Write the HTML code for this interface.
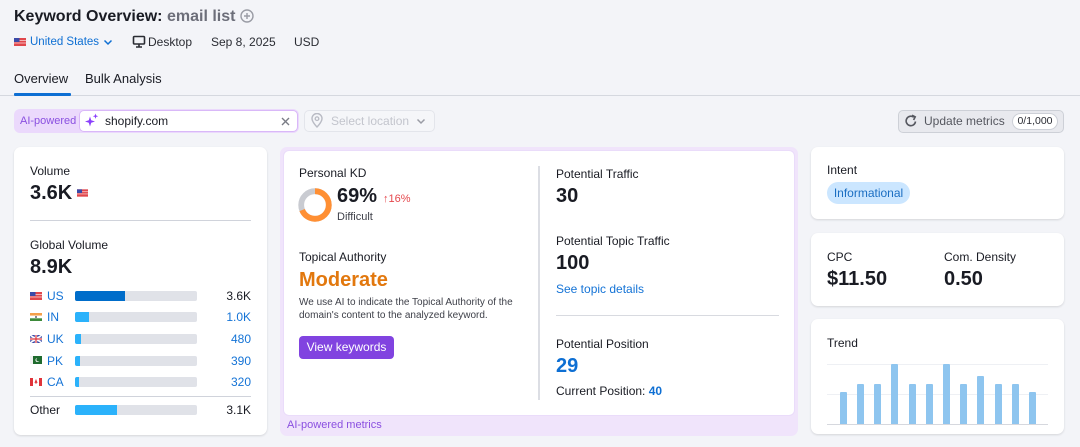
<!DOCTYPE html>
<html><head><meta charset="utf-8"><style>
*{margin:0;padding:0;box-sizing:border-box}
body{width:1080px;height:447px;background:#f3f4f8;font-family:"Liberation Sans",Arial,sans-serif;color:#191b23;position:relative;overflow:hidden}
.a{position:absolute}
.t{position:absolute;white-space:nowrap;line-height:20px;font-size:12px}
.card{position:absolute;background:#fff;border-radius:7px;box-shadow:0 1px 2px rgba(25,27,35,.14)}
.big{font-size:20px;font-weight:bold}
.blue{color:#1473d6}
.bar{position:absolute;left:75px;width:122px;height:10px;background:#e0e2e8;border-radius:2px;overflow:hidden}
.bar i{display:block;height:100%;background:#2bb2fb}
.tb{position:absolute;width:7px;background:#8ec5ef;border-radius:1px 1px 0 0}
</style></head><body>

<!-- Header -->
<div class="t" style="left:14px;top:7px;font-size:16px;font-weight:bold;color:#191b23">Keyword Overview:</div>
<div class="t" style="left:167px;top:7px;font-size:16px;font-weight:bold;color:#6c6e79">email list</div>
<svg class="a" style="left:240px;top:9px" width="14" height="14" viewBox="0 0 14 14"><circle cx="7" cy="7" r="6" fill="none" stroke="#9a9ca5" stroke-width="1.4"/><path d="M7 4v6M4 7h6" stroke="#9a9ca5" stroke-width="1.4"/></svg>

<!-- Row 2 -->
<svg class="a" style="left:14px;top:38px" width="12" height="8" viewBox="0 0 12 8"><rect width="12" height="8" fill="#e0474c"/><rect y="2" width="12" height="1" fill="#f3b5b7"/><rect y="4.5" width="12" height="1" fill="#f3b5b7"/><rect width="5.5" height="4" fill="#3a4aa8"/></svg>
<div class="t blue" style="left:30px;top:32px;color:#0e6fd3;font-size:11.5px">United States</div>
<svg class="a" style="left:103px;top:39px" width="10" height="7" viewBox="0 0 10 7"><path d="M1.5 1.5L5 5l3.5-3.5" fill="none" stroke="#0e6fd3" stroke-width="1.5"/></svg>
<svg class="a" style="left:132px;top:35px" width="14" height="13" viewBox="0 0 14 13"><rect x="1.5" y="1.5" width="11" height="7.5" rx="1" fill="none" stroke="#2a2c33" stroke-width="1.6"/><path d="M7 9v2.5M4 12h6" stroke="#2a2c33" stroke-width="1.6"/></svg>
<div class="t" style="left:148px;top:32px;color:#2a2c33">Desktop</div>
<div class="t" style="left:211px;top:32px;color:#2a2c33">Sep 8, 2025</div>
<div class="t" style="left:294px;top:32px;color:#2a2c33">USD</div>

<!-- Tabs -->
<div class="t" style="left:14px;top:69px;font-size:13px">Overview</div>
<div class="t" style="left:85px;top:69px;font-size:13px">Bulk Analysis</div>
<div class="a" style="left:0;top:95px;width:1080px;height:1px;background:#d5d8df"></div>
<div class="a" style="left:14px;top:93px;width:57px;height:3px;background:#0e6fd3;border-radius:1px"></div>

<!-- AI pill -->
<div class="a" style="left:14px;top:109px;width:285px;height:24px;background:#ebd9fc;border-radius:6px"></div>
<div class="t" style="left:20px;top:111px;font-size:11px;color:#8a4fe0">AI-powered</div>
<div class="a" style="left:79px;top:110px;width:219px;height:22px;background:#fff;border:1px solid #d9b8f8;border-radius:5px"></div>
<svg class="a" style="left:85px;top:113px" width="14" height="14" viewBox="0 0 14 14"><path d="M5 3.5L6.2 7.3 10 8.5 6.2 9.7 5 13.5 3.8 9.7 0 8.5 3.8 7.3z" fill="#8a3ffc"/><path d="M10.5 0.5l.7 2 2 .7-2 .7-.7 2-.7-2-2-.7 2-.7z" fill="#8a3ffc"/></svg>
<div class="t" style="left:105px;top:111px">shopify.com</div>
<svg class="a" style="left:281px;top:117px" width="9" height="9" viewBox="0 0 9 9"><path d="M1 1l7 7M8 1l-7 7" stroke="#7a7c85" stroke-width="1.4"/></svg>

<div class="a" style="left:304px;top:110px;width:131px;height:22px;border:1px solid #e3e5eb;border-radius:5px;background:#f5f6f9"></div>
<svg class="a" style="left:311px;top:113px" width="12" height="15" viewBox="0 0 12 15"><path d="M6 14s5-5 5-8.5A5 5 0 0 0 1 5.5C1 9 6 14 6 14z" fill="none" stroke="#b9bbc4" stroke-width="1.4"/><circle cx="6" cy="5.7" r="1.8" fill="none" stroke="#b9bbc4" stroke-width="1.3"/></svg>
<div class="t" style="left:331px;top:111px;color:#c3c5cd">Select location</div>
<svg class="a" style="left:416px;top:118px" width="10" height="7" viewBox="0 0 10 7"><path d="M1.5 1.5L5 5l3.5-3.5" fill="none" stroke="#9a9ca5" stroke-width="1.5"/></svg>

<!-- Update metrics -->
<div class="a" style="left:898px;top:110px;width:166px;height:23px;background:#e8e9ee;border:1px solid #cdd0d7;border-radius:5px"></div>
<svg class="a" style="left:904px;top:114px" width="14" height="14" viewBox="0 0 14 14"><path d="M11.5 7.5A4.7 4.7 0 1 1 9.8 3.3" fill="none" stroke="#55575f" stroke-width="1.6"/><path d="M8 1.2L11.2 2.8 9.6 6" fill="none" stroke="#55575f" stroke-width="1.6"/></svg>
<div class="t" style="left:924px;top:111px;color:#55575f">Update metrics</div>
<div class="a" style="left:1012px;top:113px;width:46px;height:17px;background:#fff;border:1px solid #cdd0d7;border-radius:9px;font-size:10.5px;line-height:15px;text-align:center;color:#2a2c33">0/1,000</div>

<!-- Left card -->
<div class="card" style="left:14px;top:147px;width:253px;height:288px"></div>
<div class="t" style="left:30px;top:161px">Volume</div>
<div class="t big" style="left:30px;top:183px">3.6K</div>
<svg class="a" style="left:77px;top:189px" width="11" height="8" viewBox="0 0 12 8"><rect width="12" height="8" fill="#e0474c"/><rect y="2" width="12" height="1" fill="#f3b5b7"/><rect y="4.5" width="12" height="1" fill="#f3b5b7"/><rect width="5.5" height="4" fill="#3a4aa8"/></svg>
<div class="a" style="left:30px;top:220px;width:221px;height:1px;background:#d0d3db"></div>
<div class="t" style="left:30px;top:235px">Global Volume</div>
<div class="t big" style="left:30px;top:257px">8.9K</div>

<!-- country rows -->
<svg class="a" style="left:30px;top:292px" width="12" height="8" viewBox="0 0 12 8"><rect width="12" height="8" fill="#e0474c"/><rect y="2" width="12" height="1" fill="#f3b5b7"/><rect y="4.5" width="12" height="1" fill="#f3b5b7"/><rect width="5.5" height="4" fill="#3a4aa8"/></svg>
<div class="t blue" style="left:47px;top:286px">US</div>
<div class="bar" style="top:291px"><i style="width:50px;background:#006dca"></i></div>
<div class="t" style="left:200px;top:286px;width:51px;text-align:right">3.6K</div>

<svg class="a" style="left:30px;top:313px" width="12" height="8" viewBox="0 0 12 8"><rect width="12" height="2.7" fill="#f4a04a"/><rect y="2.7" width="12" height="2.6" fill="#fff"/><rect y="5.3" width="12" height="2.7" fill="#3d8a3a"/><circle cx="6" cy="4" r="0.9" fill="#334"/></svg>
<div class="t blue" style="left:47px;top:307px">IN</div>
<div class="bar" style="top:312px"><i style="width:14px"></i></div>
<div class="t blue" style="left:200px;top:307px;width:51px;text-align:right">1.0K</div>

<svg class="a" style="left:30px;top:335px" width="12" height="8" viewBox="0 0 12 8"><rect width="12" height="8" fill="#3a4aa8"/><path d="M0 0L12 8M12 0L0 8" stroke="#fff" stroke-width="1.6"/><path d="M6 0v8M0 4h12" stroke="#fff" stroke-width="2.4"/><path d="M6 0v8M0 4h12" stroke="#d9343a" stroke-width="1.2"/></svg>
<div class="t blue" style="left:47px;top:329px">UK</div>
<div class="bar" style="top:334px"><i style="width:6px"></i></div>
<div class="t blue" style="left:200px;top:329px;width:51px;text-align:right">480</div>

<svg class="a" style="left:30px;top:356px" width="12" height="8" viewBox="0 0 12 8"><rect width="12" height="8" fill="#1f6b2e"/><rect width="3" height="8" fill="#f2f2f2"/><circle cx="7.5" cy="4" r="2" fill="#fff"/><circle cx="8.2" cy="3.6" r="1.8" fill="#1f6b2e"/></svg>
<div class="t blue" style="left:47px;top:351px">PK</div>
<div class="bar" style="top:356px"><i style="width:5px"></i></div>
<div class="t blue" style="left:200px;top:351px;width:51px;text-align:right">390</div>

<svg class="a" style="left:30px;top:378px" width="12" height="8" viewBox="0 0 12 8"><rect width="12" height="8" fill="#fff"/><rect width="3" height="8" fill="#e0343a"/><rect x="9" width="3" height="8" fill="#e0343a"/><path d="M6 2l1 2.5H5z M6 6v-2" fill="#e0343a" stroke="#e0343a" stroke-width=".8"/></svg>
<div class="t blue" style="left:47px;top:372px">CA</div>
<div class="bar" style="top:377px"><i style="width:4px"></i></div>
<div class="t blue" style="left:200px;top:372px;width:51px;text-align:right">320</div>

<div class="a" style="left:30px;top:396px;width:221px;height:1px;background:#d0d3db"></div>
<div class="t" style="left:30px;top:400px">Other</div>
<div class="bar" style="top:405px"><i style="width:42px"></i></div>
<div class="t" style="left:200px;top:400px;width:51px;text-align:right">3.1K</div>

<!-- Middle wrapper -->
<div class="a" style="left:280px;top:147px;width:518px;height:289px;background:#f0e4fb;border-radius:7px"></div>
<div class="a" style="left:283px;top:150px;width:512px;height:266px;background:#fff;border-radius:6px;border:1px solid #eadcfa"></div>
<div class="t" style="left:287px;top:415px;font-size:11px;color:#8a4fe0">AI-powered metrics</div>

<div class="t" style="left:299px;top:163px">Personal KD</div>
<svg class="a" style="left:298px;top:188px" width="34" height="34" viewBox="0 0 34 34">
<circle cx="17" cy="17" r="13.8" fill="none" stroke="#c9cbd1" stroke-width="5.8"/>
<circle cx="17" cy="17" r="13.8" fill="none" stroke="#ff8f33" stroke-width="5.8" stroke-dasharray="59.8 86.7" transform="rotate(-90 17 17)"/>
</svg>
<div class="t big" style="left:337px;top:186px">69%</div>
<div class="t" style="left:383px;top:189px;font-size:11px;color:#e5484d">↑16%</div>
<div class="t" style="left:337px;top:207px;font-size:11px;color:#3e4049">Difficult</div>

<div class="t" style="left:299px;top:247px">Topical Authority</div>
<div class="t big" style="left:299px;top:270px;color:#e2780e">Moderate</div>
<div class="a" style="left:299px;top:296px;font-size:10px;line-height:13px;color:#3e4049;white-space:nowrap">We use AI to indicate the Topical Authority of the<br>domain's content to the analyzed keyword.</div>
<div class="a" style="left:299px;top:336px;width:95px;height:23px;background:#8143e0;border-radius:4px;color:#fff;font-size:12px;line-height:23px;text-align:center">View keywords</div>

<div class="a" style="left:538px;top:166px;width:2px;height:234px;background:#dcdee4"></div>

<div class="t" style="left:556px;top:164px">Potential Traffic</div>
<div class="t big" style="left:556px;top:186px">30</div>
<div class="t" style="left:556px;top:231px">Potential Topic Traffic</div>
<div class="t big" style="left:556px;top:253px">100</div>
<div class="t" style="left:556px;top:279px;color:#1473d6">See topic details</div>
<div class="a" style="left:556px;top:315px;width:223px;height:1px;background:#d8dae0"></div>
<div class="t" style="left:556px;top:334px">Potential Position</div>
<div class="t big" style="left:556px;top:356px;color:#0e6fd3">29</div>
<div class="t" style="left:556px;top:381px">Current Position: <b style="color:#0e6fd3">40</b></div>

<!-- Right cards -->
<div class="card" style="left:811px;top:147px;width:253px;height:72px"></div>
<div class="t" style="left:827px;top:160px">Intent</div>
<div class="a" style="left:827px;top:182px;width:83px;height:22px;background:#cbe6ff;border-radius:11px;color:#1b6ec2;font-size:12px;line-height:22px;text-align:center">Informational</div>

<div class="card" style="left:811px;top:233px;width:253px;height:73px"></div>
<div class="t" style="left:827px;top:247px">CPC</div>
<div class="t big" style="left:827px;top:269px">$11.50</div>
<div class="t" style="left:944px;top:247px">Com. Density</div>
<div class="t big" style="left:944px;top:269px">0.50</div>

<div class="card" style="left:811px;top:319px;width:253px;height:115px"></div>
<div class="t" style="left:827px;top:333px">Trend</div>
<div class="a" style="left:827px;top:364px;width:221px;height:1px;background:#eef0f4"></div>
<div class="a" style="left:827px;top:394px;width:221px;height:1px;background:#eef0f4"></div>
<div class="a" style="left:827px;top:424px;width:221px;height:1px;background:#d6d8de"></div>
<div class="tb" style="left:840px;top:392px;height:32px"></div>
<div class="tb" style="left:857px;top:384px;height:40px"></div>
<div class="tb" style="left:874px;top:384px;height:40px"></div>
<div class="tb" style="left:891px;top:364px;height:60px"></div>
<div class="tb" style="left:909px;top:384px;height:40px"></div>
<div class="tb" style="left:926px;top:384px;height:40px"></div>
<div class="tb" style="left:943px;top:364px;height:60px"></div>
<div class="tb" style="left:960px;top:384px;height:40px"></div>
<div class="tb" style="left:977px;top:376px;height:48px"></div>
<div class="tb" style="left:995px;top:384px;height:40px"></div>
<div class="tb" style="left:1012px;top:384px;height:40px"></div>
<div class="tb" style="left:1029px;top:392px;height:32px"></div>

</body></html>
